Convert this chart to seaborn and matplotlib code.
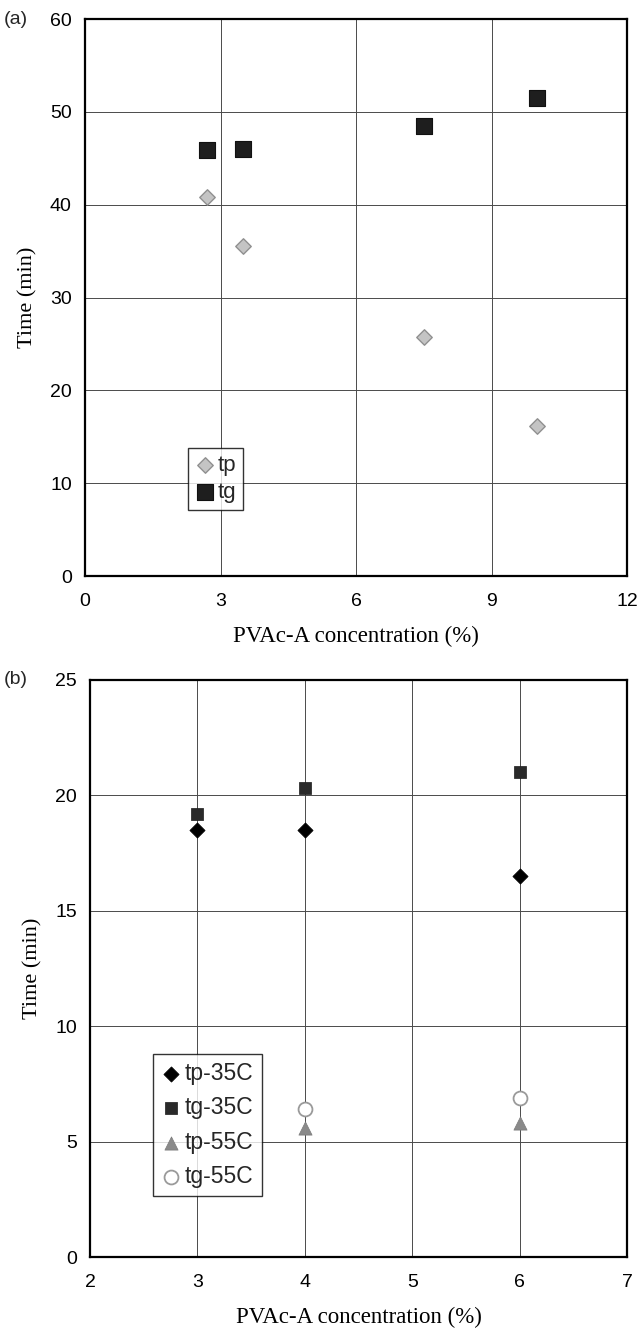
import matplotlib
matplotlib.use("Agg")
import matplotlib.pyplot as plt
import seaborn as sns
import pandas as pd

# ---- data: panel (a) ----
a_conc = [2.7, 3.5, 7.5, 10.0]
a_tp = [40.8, 35.5, 25.7, 16.2]
a_tg = [45.9, 46.0, 48.5, 51.5]
a_xticks = [0, 3, 6, 9, 12]
a_yticks = [0, 10, 20, 30, 40, 50, 60]

# ---- data: panel (b) ----
b_conc35 = [3, 4, 6]
b_tp35 = [18.5, 18.5, 16.5]
b_tg35 = [19.2, 20.3, 21.0]
b_conc55 = [4, 6]
b_tp55 = [5.6, 5.8]
b_tg55 = [6.4, 6.9]
b_xticks = [2, 3, 4, 5, 6, 7]
b_yticks = [0, 5, 10, 15, 20, 25]

sns.set_theme(style="white")
plt.rcParams["font.family"] = ["Liberation Sans", "DejaVu Sans"]

fig = plt.figure(figsize=(6.4, 13.37), dpi=100)
W, H = 640, 1337
ax_a = fig.add_axes([85 / W, 1 - 576 / H, (627 - 85) / W, (576 - 19) / H])
ax_b = fig.add_axes([90 / W, 1 - 1257 / H, (627 - 90) / W, (1257 - 680) / H])

serif = ["Liberation Serif", "DejaVu Serif"]


def style_axes(ax, xt, yt):
    ax.set_xlim(xt[0], xt[-1])
    ax.set_ylim(yt[0], yt[-1])
    ax.set_xticks(xt)
    ax.set_yticks(yt)
    ax.grid(True, color="#4a4a4a", linewidth=0.7)
    ax.set_axisbelow(True)
    for s in ax.spines.values():
        s.set_visible(True)
        s.set_color("black")
        s.set_linewidth(1.6)
    ax.tick_params(axis="both", direction="inout", length=7, width=1.0,
                   colors="black", labelsize=14, pad=6)
    ax.tick_params(axis="x", pad=9)
    ax.set_xlabel("PVAc-A concentration (%)", family=serif, fontsize=16.5,
                  labelpad=11, color="black")
    ax.set_ylabel("Time (min)", family=serif, fontsize=16, labelpad=9,
                  color="black")


# panel (a)
da = pd.DataFrame({"conc": a_conc, "tp": a_tp, "tg": a_tg})
sns.scatterplot(data=da, x="conc", y="tp", ax=ax_a, marker="D", s=62,
                color="#c4c4c4", edgecolor="#909090", linewidth=1.0,
                label="tp", zorder=3)
sns.scatterplot(data=da, x="conc", y="tg", ax=ax_a, marker="s", s=120,
                color="#1e1e1e", edgecolor="#111111", linewidth=0.8,
                label="tg", zorder=3)
style_axes(ax_a, a_xticks, a_yticks)
leg = ax_a.legend(loc="upper left", bbox_to_anchor=(188 / W, 1 - 448 / H),
                  bbox_transform=fig.transFigure, fontsize=16, frameon=True,
                  fancybox=False, edgecolor="black", handletextpad=0.15,
                  handlelength=0.9, borderpad=0.3, labelspacing=0.3,
                  borderaxespad=0)
leg.get_frame().set_linewidth(1.0)

# panel (b)
d35 = pd.DataFrame({"conc": b_conc35, "tp": b_tp35, "tg": b_tg35})
d55 = pd.DataFrame({"conc": b_conc55, "tp": b_tp55, "tg": b_tg55})
sns.scatterplot(data=d35, x="conc", y="tp", ax=ax_b, marker="D", s=60,
                color="black", edgecolor="black", linewidth=0.5,
                label="tp-35C", zorder=3)
sns.scatterplot(data=d35, x="conc", y="tg", ax=ax_b, marker="s", s=85,
                color="#2a2a2a", edgecolor="#1a1a1a", linewidth=0.5,
                label="tg-35C", zorder=3)
sns.scatterplot(data=d55, x="conc", y="tp", ax=ax_b, marker="^", s=90,
                color="#8a8a8a", edgecolor="#7a7a7a", linewidth=0.5,
                label="tp-55C", zorder=3)
sns.scatterplot(data=d55, x="conc", y="tg", ax=ax_b, marker="o", s=100,
                facecolor="white", edgecolor="#9a9a9a", linewidth=1.3,
                label="tg-55C", zorder=3)
style_axes(ax_b, b_xticks, b_yticks)
leg = ax_b.legend(loc="upper left", bbox_to_anchor=(153 / W, 1 - 1054 / H),
                  bbox_transform=fig.transFigure, fontsize=16.5, frameon=True,
                  fancybox=False, edgecolor="black", handletextpad=0.15,
                  handlelength=0.9, borderpad=0.35, labelspacing=0.5,
                  borderaxespad=0)
leg.get_frame().set_linewidth(1.0)

fig.text(4 / W, 1 - 19 / H, "(a)", fontsize=14, va="center", ha="left")
fig.text(4 / W, 1 - 680 / H, "(b)", fontsize=14, va="center", ha="left")

fig.savefig("out.png", dpi=100)
